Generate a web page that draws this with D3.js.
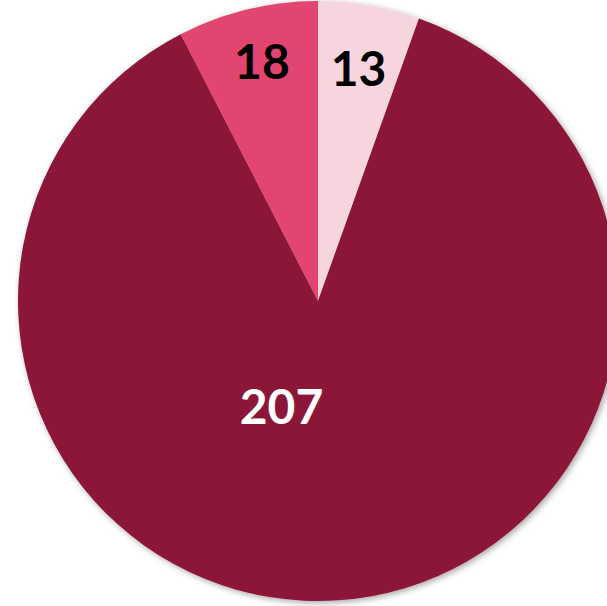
<!DOCTYPE html>
<html><head><meta charset="utf-8">
<script src="https://cdn.jsdelivr.net/npm/d3@7"></script>
<style>html,body{margin:0;padding:0;background:#fff;overflow:hidden}</style>
</head><body>
<svg id="c" width="607" height="606"></svg>
<script>
const categories = ["A", "B", "C"];
const values = [13, 207, 18];
const colors = ["#F7D5DE", "#8C1538", "#E1456F"];
const labelColors = ["#000000", "#FFFFFF", "#000000"];

const W = 607, H = 606, cx = 318, cy = 301, R = 300;
const svg = d3.select("#c");
const defs = svg.append("defs");
const f = defs.append("filter").attr("id","sh").attr("x","-10%").attr("y","-10%").attr("width","120%").attr("height","120%");
f.append("feDropShadow").attr("dx",2).attr("dy",2).attr("stdDeviation",3).attr("flood-color","#000").attr("flood-opacity",0.35);

const pie = d3.pie().sort(null).value(d => d)(values);
const arc = d3.arc().innerRadius(0).outerRadius(R);
const g = svg.append("g").attr("transform", `translate(${cx},${cy})`);
g.append("g").attr("filter","url(#sh)").selectAll("path").data(pie).join("path")
  .attr("d", arc).attr("fill", (d,i) => colors[i]);

// label placement: polar (radius, angle offset in degrees) per slice
const labelPlace = [[237, 0], [111, 23], [247, 0.5]];
g.selectAll("text").data(pie).join("text")
  .attr("transform", (d,i) => {
    const a = (d.startAngle + d.endAngle)/2 + labelPlace[i][1]*Math.PI/180;
    const r = labelPlace[i][0];
    return `translate(${r*Math.sin(a)},${-r*Math.cos(a)})`;
  })
  .attr("text-anchor","middle").attr("dominant-baseline","central")
  .attr("font-family","Lato, 'Open Sans', sans-serif").attr("font-weight","bold")
  .attr("font-size", 48).attr("fill", (d,i) => labelColors[i])
  .text(d => d.data);
</script>
</body></html>
